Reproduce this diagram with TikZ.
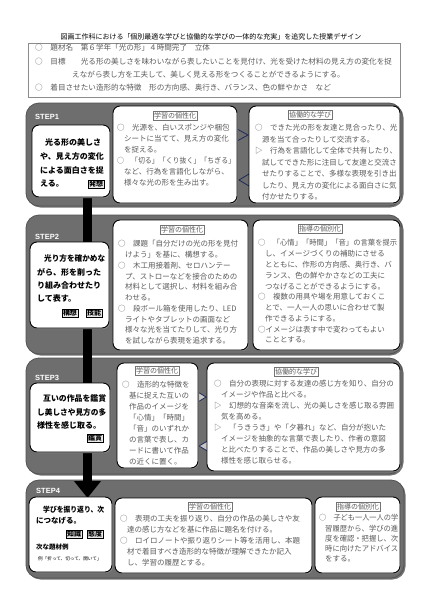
\documentclass[tikz,border=0pt]{standalone}
\usepackage{fontspec}
\setmainfont{Noto Sans CJK JP}
\newfontfamily\lsans{Liberation Sans}
\usepackage{graphicx}
\usetikzlibrary{arrows.meta,shadows}
\definecolor{panel}{HTML}{6E6E6E}
\definecolor{navy}{HTML}{1C2A5A}
\definecolor{txtg}{HTML}{5A5A5A}
\newsavebox\lnbox
\newcommand\fitw[2]{\sbox\lnbox{\ignorespaces#2\unskip}\ifdim\wd\lnbox>#1\relax\resizebox{#1}{\ht\lnbox}{\usebox\lnbox}\else\usebox\lnbox\fi}
% #1 name #2 x first #3 x cont #4 y0 #5 dy #6 right limit #7 lines
\newcommand\para[7]{%
  \foreach \t [count=\i from 0] in {#7}{%
    \ifnum\i=0
      \node[txt] (#1-\i) at (#2,#4) {\fitw{\dimexpr #6pt-#2pt\relax}{\t}};
    \else
      \node[txt] (#1-\i) at (#3,{#4+\i*#5}) {\fitw{\dimexpr #6pt-#3pt\relax}{\t}};
    \fi}}
\newcommand\lline[5]{\node[ltxt] (#1) at (#2,#3) {\fitw{\dimexpr #4pt-#2pt\relax}{#5}};}
\newcommand\bx[6]{\node[#1,minimum width=#5pt-#3pt,minimum height=#6pt-#4pt] (#2) at ({(#3+#5)/2},{(#4+#6)/2}) {};}
\pgfdeclarelayer{back}
\pgfdeclarelayer{mid}
\pgfsetlayers{back,mid,main}
\begin{document}
\begin{tikzpicture}[x=1pt,y=-1pt,
  box/.style={draw=black,line width=0.9pt,fill=white,rounded corners=7pt,inner sep=0pt,
    drop shadow={shadow xshift=1pt,shadow yshift=-1pt,fill=black!45,opacity=1}},
  pnl/.style={fill=panel,draw=panel!75!black,line width=0.8pt,rounded corners=13pt,inner sep=0pt,
    drop shadow={shadow xshift=1.5pt,shadow yshift=-1.5pt,fill=black!55,opacity=1}},
  txt/.style={anchor=west,inner sep=0pt,font=\fontsize{7.5}{9}\selectfont,text=txtg},
  htxt/.style={anchor=west,inner sep=0pt,font=\fontsize{7.6}{9}\selectfont,text=txtg},
  ltxt/.style={anchor=west,inner sep=0pt,font=\fontsize{8}{9}\selectfont\bfseries,text=black},
  ttag/.style={draw=black!55,line width=0.5pt,fill=white,inner sep=1.2pt,font=\fontsize{7}{8}\selectfont,text=txtg},
  tag/.style={draw=black,line width=0.6pt,fill=gray!18,inner sep=0.8pt,font=\fontsize{7}{8}\selectfont\bfseries},
  steplbl/.style={anchor=west,inner sep=0pt,text=white,font=\lsans\fontsize{7.5}{9}\selectfont\bfseries},
  chev/.style={draw=navy,line width=0.8pt,line join=miter},
  bar/.style={line width=9pt,draw=black,-{Triangle[width=26pt,length=17pt]}}]
\useasboundingbox (0,0) rectangle (422,603);
\begin{pgfonlayer}{back}
\fill[white] (0,0) rectangle (422,603);
\end{pgfonlayer}

% title and header
\node[font=\fontsize{7}{8}\selectfont] (ttl) at (211,37) {図画工作科における「個別最適な学びと協働的な学びの一体的な充実」を追究した授業デザイン};
\node[draw=black!45,line width=0.7pt,minimum width=372pt,minimum height=54pt,inner sep=0pt] (hdr) at (214,70) {};
\node[htxt] (h1) at (35,48) {○　題材名　第６学年「光の形」４時間完了　立体};
\node[htxt] (h2) at (35,62) {\fitw{362pt}{○　目標　　光る形の美しさを味わいながら表したいことを見付け、光を受けた材料の見え方の変化を捉}};
\node[htxt] (h3) at (72,75) {えながら表し方を工夫して、美しく見える形をつくることができるようにする。};
\node[htxt] (h4) at (35,88) {○　着目させたい造形的な特徴　形の方向感、奥行き、バランス、色の鮮やかさ　など};

% panels
\begin{pgfonlayer}{back}
\bx{pnl}{p1}{26}{103}{402}{206}
\bx{pnl}{p2}{26}{215}{402}{354}
\bx{pnl}{p3}{26}{358}{402}{474}
\bx{pnl}{p4}{26}{480}{404}{578}
\end{pgfonlayer}

% boxes
\bx{box}{s1l}{32}{125}{110}{197}
\bx{box}{s1m}{113}{106}{237}{203}
\bx{box}{s1r}{249}{106}{400}{203}
\bx{box}{s2l}{30}{242}{109}{328}
\bx{box}{s2m}{113}{220}{248}{350}
\bx{box}{s2r}{253}{220}{400}{350}
\bx{box}{s3l}{30}{383}{110}{452}
\bx{box}{s3m}{117}{363}{198}{468}
\bx{box}{s3r}{207}{363}{400}{471}
\bx{box}{s4l}{29}{497}{112}{572}
\bx{box}{s4m}{115}{498}{312}{573}
\bx{box}{s4r}{315}{497}{400}{573}

% flow bar and chevrons
\coordinate (tip) at (87.5,498);
\begin{pgfonlayer}{mid}
\draw[bar] (s1l.south -| tip) -- (tip);
\draw[chev,fill=panel] (228,124) -- (248,135) -- (228,146) -- cycle;
\draw[chev,fill=panel] (259,168) -- (239,180) -- (259,192) -- cycle;
\draw[chev,fill=gray!45] (188,386) -- (206,397) -- (188,408) -- cycle;
\draw[chev,fill=gray!45] (216,436) -- (199,446) -- (216,456) -- cycle;
\end{pgfonlayer}

% step labels
\node[steplbl] (st1) at (35,117) {STEP1};
\node[steplbl] (st2) at (35,237) {STEP2};
\node[steplbl] (st3) at (35,378) {STEP3};
\node[steplbl] (st4) at (36,491) {STEP4};

% STEP1
\lline{a1}{45}{142}{106}{光る形の美しさ}
\lline{a2}{40}{156}{106}{や、見え方の変化}
\lline{a3}{40}{170}{106}{による面白さを捉}
\lline{a4}{40}{184}{106}{える。}
\node[tag] (g1) at (96,184) {発想};
\node[ttag] (t1m) at (175,116) {学習の個性化};
\para{m1a}{117}{124}{128}{11}{235}{○　光源を、白いスポンジや梱包,シートに当てて、見え方の変化,を捉える。}
\para{m1b}{117}{124}{161}{11}{235}{○　「切る」「くり抜く」「ちぎる」,など、行為を言語化しながら、,様々な光の形を生み出す。}
\node[ttag] (t1r) at (310,115) {協働的な学び};
\para{r1a}{255}{262}{128}{11.5}{398}{○　できた光の形を友達と見合ったり、光,源を当て合ったりして交流する。}
\para{r1b}{255}{262}{151}{11.5}{398}{▷　行為を言語化して全体で共有したり、,試してできた形に注目して友達と交流さ,せたりすることで、多様な表現を引き出,したり、見え方の変化による面白さに気,付かせたりする。}

% STEP2
\lline{b1}{44}{258}{105}{光り方を確かめな}
\lline{b2}{37}{272}{105}{がら、形を削った}
\lline{b3}{37}{285}{105}{り組み合わせたり}
\lline{b4}{37}{298}{105}{して表す。}
\node[tag] (g2) at (70,313) {構想};
\node[tag] (g3) at (94,313) {技能};
\node[ttag] (t2m) at (182,230) {学習の個性化};
\para{m2a}{118}{125}{244}{10.75}{246}{○　課題「自分だけの光の形を見付,けよう」を基に、構想する。}
\para{m2b}{118}{125}{265.5}{10.75}{246}{○　木工用接着剤、セロハンテー,プ、ストローなどを接合のための,材料として選択し、材料を組み合,わせる。}
\para{m2c}{118}{125}{308.5}{10.75}{246}{○　段ボール箱を使用したり、LED,ライトやタブレットの画面など,様々な光を当てたりして、光り方,を試しながら表現を追求する。}
\node[ttag] (t2r) at (320,229) {指導の個別化};
\para{r2a}{258}{265}{243}{10.8}{397}{○　「心情」「時間」「音」の言葉を提示,し、イメージづくりの補助にさせる,とともに、作形の方向感、奥行き、バ,ランス、色の鮮やかさなどの工夫に,つなげることができるようにする。}
\para{r2b}{258}{265}{297}{10.8}{397}{○　複数の用具や場を用意しておくこ,とで、一人一人の思いに合わせて製,作できるようにする。}
\para{r2c}{258}{265}{329.4}{10.8}{397}{○イメージは表す中で変わってもよい,こととする。}

% STEP3
\lline{c1}{43}{398}{106}{互いの作品を鑑賞}
\lline{c2}{37}{412}{106}{し美しさや見方の多}
\lline{c3}{37}{425}{106}{様性を感じ取る。}
\node[tag] (g4) at (95,438) {鑑賞};
\node[ttag] (t3m) at (157,371) {学習の個性化};
\para{m3a}{122}{129}{385}{11}{196}{○　造形的な特徴を,基に捉えた互いの,作品のイメージを,「心情」「時間」,「音」のいずれか,の言葉で表し、カ,ードに書いて作品,の近くに置く。}
\node[ttag] (t3r) at (296,372) {協働的な学び};
\para{r3a}{214}{221}{384}{11}{397}{○　自分の表現に対する友達の感じ方を知り、自分の,イメージや作品と比べる。}
\para{r3b}{214}{221}{406}{11}{397}{▷　幻想的な音楽を流し、光の美しさを感じ取る雰囲,気を高める。}
\para{r3c}{214}{221}{428}{11}{397}{▷　「うきうき」や「夕暮れ」など、自分が抱いた,イメージを抽象的な言葉で表したり、作者の意図,と比べたりすることで、作品の美しさや見方の多,様性を感じ取らせる。}

% STEP4
\node[ltxt,font=\fontsize{7.5}{9}\selectfont\bfseries] (d1) at (43,510) {\fitw{61pt}{学びを振り返り、次}};
\node[ltxt,font=\fontsize{7.5}{9}\selectfont\bfseries] (d2) at (36,521) {につなげる。};
\node[tag] (g5) at (74,534) {知識};
\node[tag] (g6) at (95,534) {態度};
\node[ltxt,font=\fontsize{6.5}{8}\selectfont\bfseries] (d3) at (36,547) {次な題材例};
\node[ltxt,font=\fontsize{4.6}{6}\selectfont] (d4) at (38,559) {例「折って、切って、開いて」};
\node[ttag] (t4m) at (210,507) {学習の個性化};
\para{m4a}{120}{127}{519}{11}{309}{○　表現の工夫を振り返り、自分の作品の美しさや友,達の感じ方などを基に作品に題名を付ける。}
\para{m4b}{120}{127}{541}{11}{309}{○　ロイロノートや振り返りシート等を活用し、本題,材で着目すべき造形的な特徴が理解できたか記入,し、学習の履歴とする。}
\node[ttag] (t4r) at (358,507) {指導の個別化};
\para{r4a}{319}{325}{518}{10.3}{398}{○　子ども一人一人の学,習履歴から、学びの進,度を確認・把握し、次,時に向けたアドバイス,をする。}
\end{tikzpicture}
\end{document}
